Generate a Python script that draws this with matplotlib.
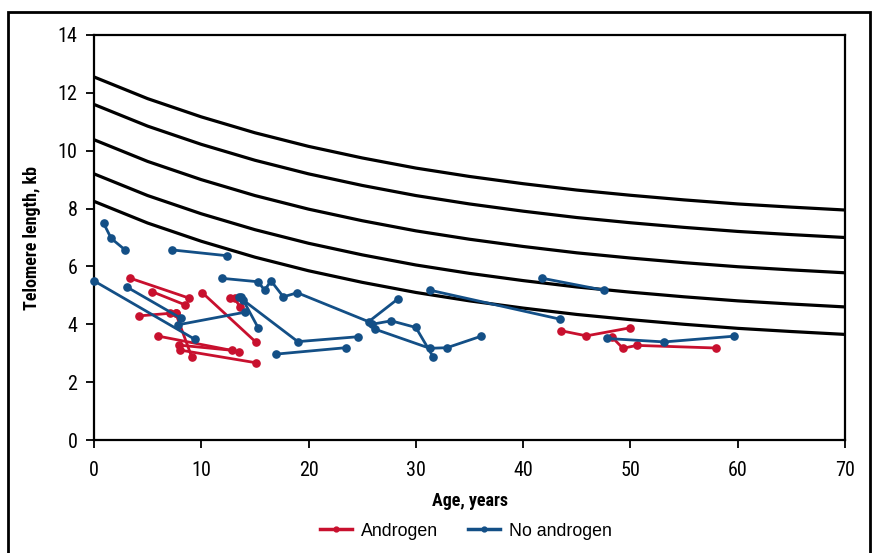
import matplotlib
matplotlib.use("Agg")
import matplotlib.pyplot as plt
from matplotlib.patches import Rectangle
from matplotlib.lines import Line2D
import logging
logging.getLogger("matplotlib.font_manager").setLevel(logging.ERROR)

# Reference percentile curves (every 5 years)
curve_ages = [0, 5, 10, 15, 20, 25, 30, 35, 40, 45, 50, 55, 60, 65, 70]
curve_p1 = [12.55, 11.80, 11.17, 10.62, 10.15, 9.75, 9.40, 9.11, 8.86, 8.64, 8.46, 8.30, 8.16, 8.05, 7.95]
curve_p2 = [11.60, 10.85, 10.22, 9.67, 9.20, 8.80, 8.45, 8.16, 7.91, 7.69, 7.51, 7.35, 7.21, 7.10, 7.00]
curve_p3 = [10.38, 9.63, 9.00, 8.45, 7.98, 7.58, 7.23, 6.94, 6.69, 6.47, 6.29, 6.13, 5.99, 5.88, 5.78]
curve_p4 = [9.20, 8.45, 7.82, 7.27, 6.80, 6.40, 6.05, 5.76, 5.51, 5.29, 5.11, 4.95, 4.81, 4.70, 4.60]
curve_p5 = [8.25, 7.50, 6.87, 6.32, 5.85, 5.45, 5.10, 4.81, 4.56, 4.34, 4.16, 4.00, 3.86, 3.75, 3.65]

# Androgen patients: (ages, telomere lengths)
andro_ages = [
    [3.4, 8.9],
    [5.4, 8.5],
    [4.2, 7.1, 7.6],
    [7.6, 9.1],
    [10.1, 15.1],
    [12.7, 13.1, 13.6],
    [6.0, 13.5],
    [7.9, 12.9],
    [8.0, 15.1],
    [43.5, 45.9, 50.0],
    [48.3, 49.3, 50.6, 58.0],
]
andro_vals = [
    [5.59, 4.90],
    [5.13, 4.67],
    [4.29, 4.38, 4.40],
    [4.40, 2.88],
    [5.09, 3.38],
    [4.90, 4.90, 4.61],
    [3.59, 3.05],
    [3.28, 3.10],
    [3.11, 2.67],
    [3.78, 3.60, 3.88],
    [3.55, 3.17, 3.27, 3.18],
]

# No-androgen patients
noandro_ages = [
    [0.9, 1.6, 2.9],
    [7.3, 12.4],
    [0.0, 9.4],
    [3.1, 8.1],
    [7.8, 14.1],
    [13.7, 13.9, 15.3],
    [13.5, 19.0, 24.6],
    [17.0, 23.45],
    [11.9, 15.3, 15.9, 16.5, 17.65, 18.95, 25.6, 28.3],
    [25.9, 27.7, 30.0, 31.6],
    [26.2, 31.3, 32.9, 36.1],
    [31.3, 43.4],
    [41.8, 47.5],
    [47.8, 53.15, 59.7],
]
noandro_vals = [
    [7.49, 6.97, 6.57],
    [6.57, 6.37],
    [5.50, 3.48],
    [5.28, 4.21],
    [3.98, 4.42],
    [4.93, 4.84, 3.88],
    [4.95, 3.40, 3.57],
    [2.97, 3.19],
    [5.59, 5.47, 5.18, 5.50, 4.95, 5.09, 4.09, 4.87],
    [4.00, 4.12, 3.89, 2.88],
    [3.83, 3.17, 3.19, 3.59],
    [5.18, 4.18],
    [5.59, 5.18],
    [3.51, 3.39, 3.59],
]

x_ticks = [0, 10, 20, 30, 40, 50, 60, 70]
y_ticks = [0, 2, 4, 6, 8, 10, 12, 14]

RED = "#C8102E"
BLUE = "#134F86"
narrow = ["Roboto Condensed", "Liberation Sans Narrow", "Liberation Sans", "DejaVu Sans"]
plain = ["Liberation Sans", "DejaVu Sans"]

fig = plt.figure(figsize=(8.75, 5.53), dpi=100)
ax = fig.add_axes([94 / 875, 1 - 440 / 553, (845 - 94) / 875, (440 - 35) / 553])

for c in [curve_p1, curve_p2, curve_p3, curve_p4, curve_p5]:
    ax.plot(curve_ages, c, color="black", lw=2.3, solid_capstyle="butt", zorder=2)

for a, v in zip(andro_ages, andro_vals):
    ax.plot(a, v, color=RED, lw=2.0, marker="o", ms=5.2, zorder=3, clip_on=False)
for a, v in zip(noandro_ages, noandro_vals):
    ax.plot(a, v, color=BLUE, lw=2.0, marker="o", ms=5.2, zorder=3, clip_on=False)

ax.set_xlim(0, 70)
ax.set_ylim(0, 14)
ax.set_xticks(x_ticks)
ax.set_yticks(y_ticks)
ax.set_xticklabels([str(t) for t in x_ticks], family=narrow, fontsize=14.5)
ax.set_yticklabels([str(t) for t in y_ticks], family=narrow, fontsize=14.5)
ax.tick_params(direction="out", length=6, width=1.3)
ax.tick_params(axis="x", pad=9)
ax.tick_params(axis="y", pad=6)
for s in ax.spines.values():
    s.set_linewidth(1.6)

ax.set_xlabel("Age, years", family=narrow, fontsize=13, fontweight="bold", labelpad=9)
ax.set_ylabel("Telomere length, kb", family=narrow, fontsize=13, fontweight="bold", labelpad=12)

handles = [
    Line2D([], [], color=RED, lw=2.5, marker="o", ms=3.5),
    Line2D([], [], color=BLUE, lw=2.5, marker="o", ms=3.5),
]
fig.legend(handles, ["Androgen", "No androgen"], loc="center", bbox_to_anchor=(466 / 875, 1 - 531 / 553),
           ncol=2, frameon=False, prop={"family": plain, "size": 12.8}, handlelength=1.8,
           columnspacing=1.7, handletextpad=0.5)

fig.patches.append(Rectangle((8 / 875, -0.02), (870 - 8) / 875, 1 - 12 / 553 + 0.02,
                             transform=fig.transFigure, fill=False, edgecolor="black", lw=2))

fig.savefig("out.png", dpi=100)
